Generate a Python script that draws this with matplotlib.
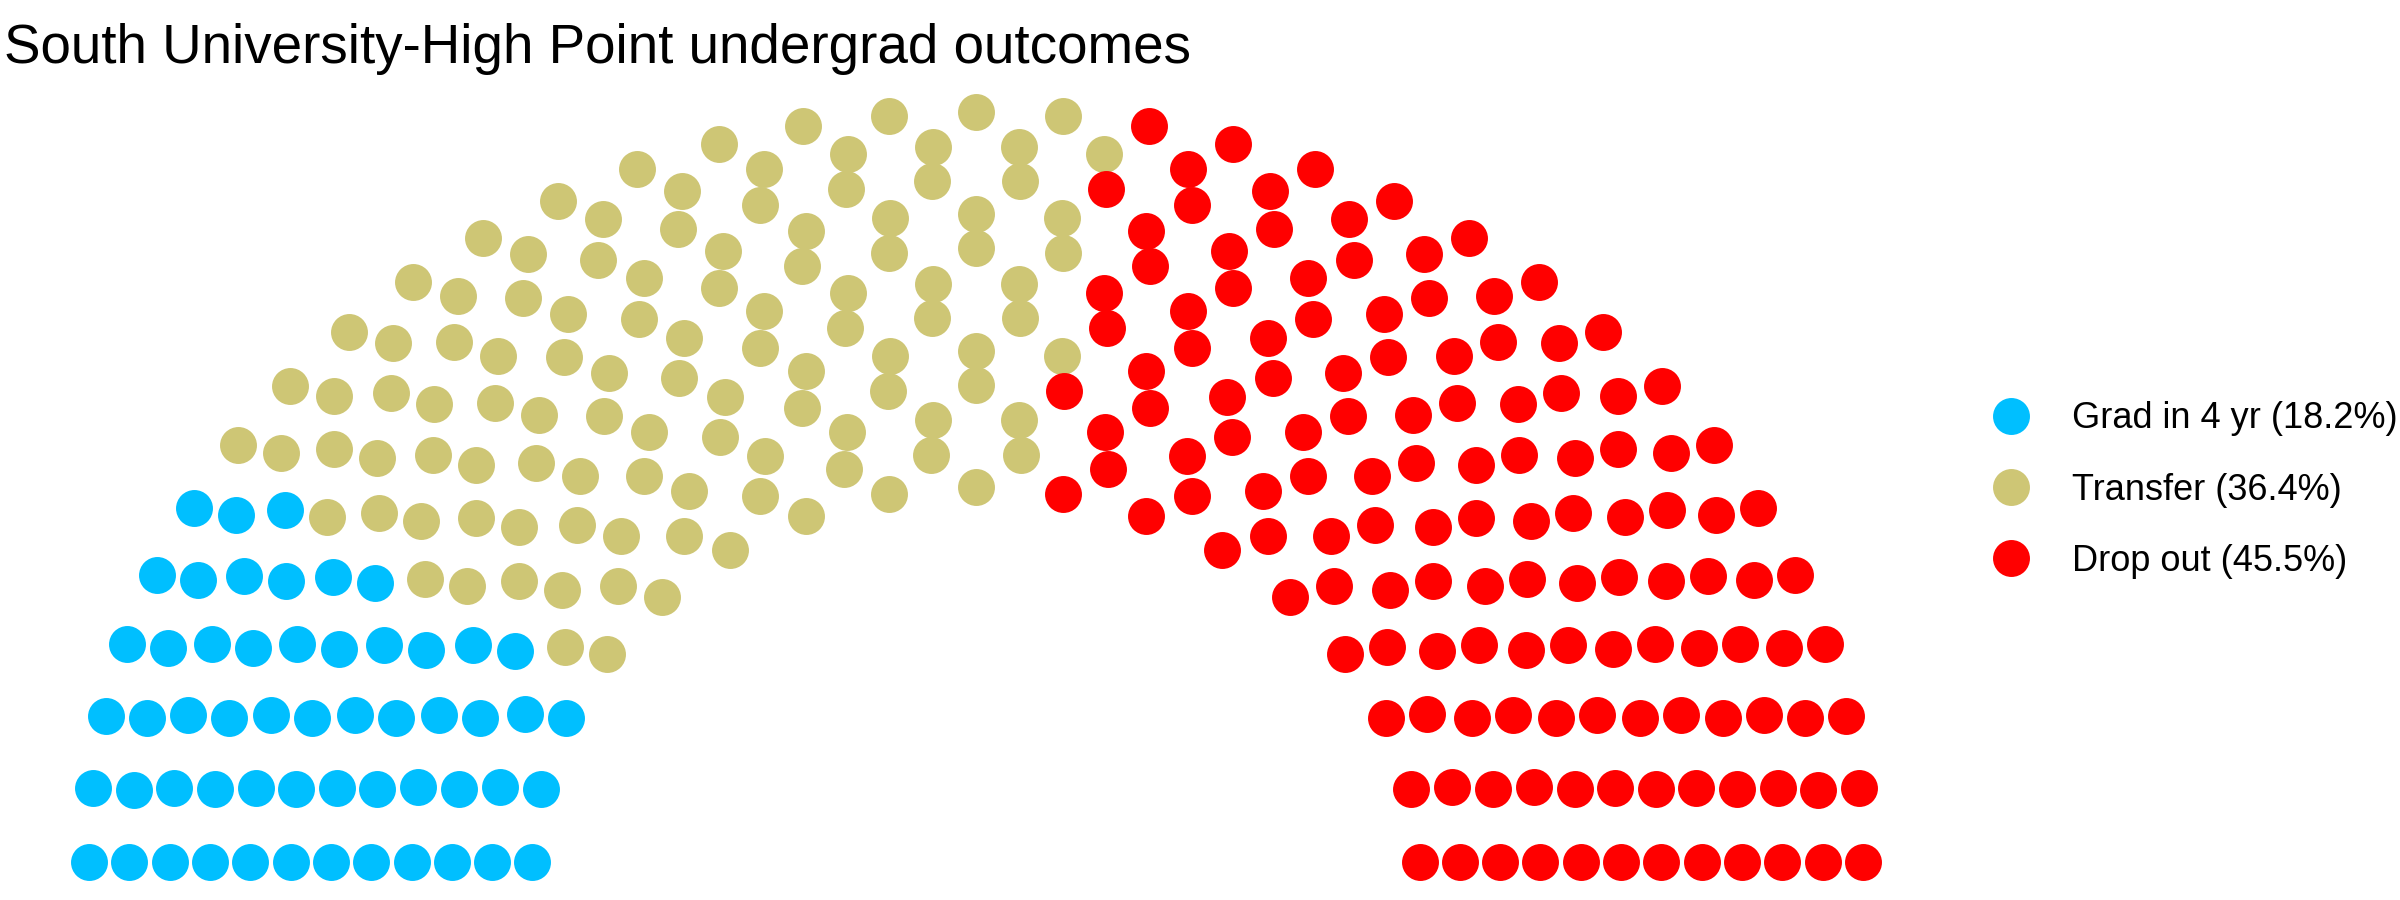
import numpy as np
import matplotlib
matplotlib.use("Agg")
import matplotlib.pyplot as plt
from matplotlib.lines import Line2D

plt.rcParams['font.family'] = ['Liberation Sans', 'DejaVu Sans']

# ---- data ----
title = "South University-High Point undergrad outcomes"
parties = ["Grad in 4 yr", "Transfer", "Drop out"]
seats = [55, 109, 136]
percents = [18.2, 36.4, 45.5]
colors = ["#00BFFF", "#CEC675", "#FF0000"]
n_rows = 12

# ---- semicircle parliament layout (ggparliament style) ----
def semicircle_layout(total, rows, limits=(1.0, 2.0)):
    radii = np.linspace(limits[0], limits[1], rows)
    remaining = total
    xs, ys, rs, ths = [], [], [], []
    for i in range(rows):
        cnt = int(round(remaining * radii[i] / radii[i:].sum()))
        theta = np.linspace(0, np.pi, cnt)
        remaining -= cnt
        xs.append(radii[i] * np.cos(theta))
        ys.append(radii[i] * np.sin(theta))
        rs.append(np.full(cnt, i))
        ths.append(theta)
    x = np.concatenate(xs); y = np.concatenate(ys)
    r = np.concatenate(rs); th = np.concatenate(ths)
    order = np.lexsort((-r, -th))
    return x[order], y[order]

x, y = semicircle_layout(sum(seats), n_rows)
party_idx = np.repeat(np.arange(len(seats)), seats)

W, H = 2400, 900
fig = plt.figure(figsize=(24, 9), dpi=100)
ax = fig.add_axes([0, 0, 1, 1])
cx, cy, sx, sy = 976, 862, 443.5, 375.0
ax.set_xlim(-cx / sx, (W - cx) / sx)
ax.set_ylim((cy - H) / sy, cy / sy)
ax.axis('off')

msize = 26.6
for k, (p, c) in enumerate(zip(parties, colors)):
    m = party_idx == k
    ax.scatter(x[m], y[m], s=msize ** 2, c=c, linewidths=0, zorder=2)

fig.text(4 / W, 1 - 63 / H, title, fontsize=39.4, va='baseline', ha='left')

handles = [Line2D([], [], marker='o', linestyle='none', markersize=msize,
                  markerfacecolor=c, markeredgewidth=0) for c in colors]
labels = [f"{p} ({v:.1f}%)" for p, v in zip(parties, percents)]
fig.legend(handles, labels, loc='center left', bbox_to_anchor=(1989 / W, 1 - 490 / H),
           frameon=False, fontsize=26, labelspacing=1.0, handletextpad=1.1,
           handlelength=1.2, borderpad=0, borderaxespad=0)

fig.savefig("out.png", dpi=100, facecolor='white')
